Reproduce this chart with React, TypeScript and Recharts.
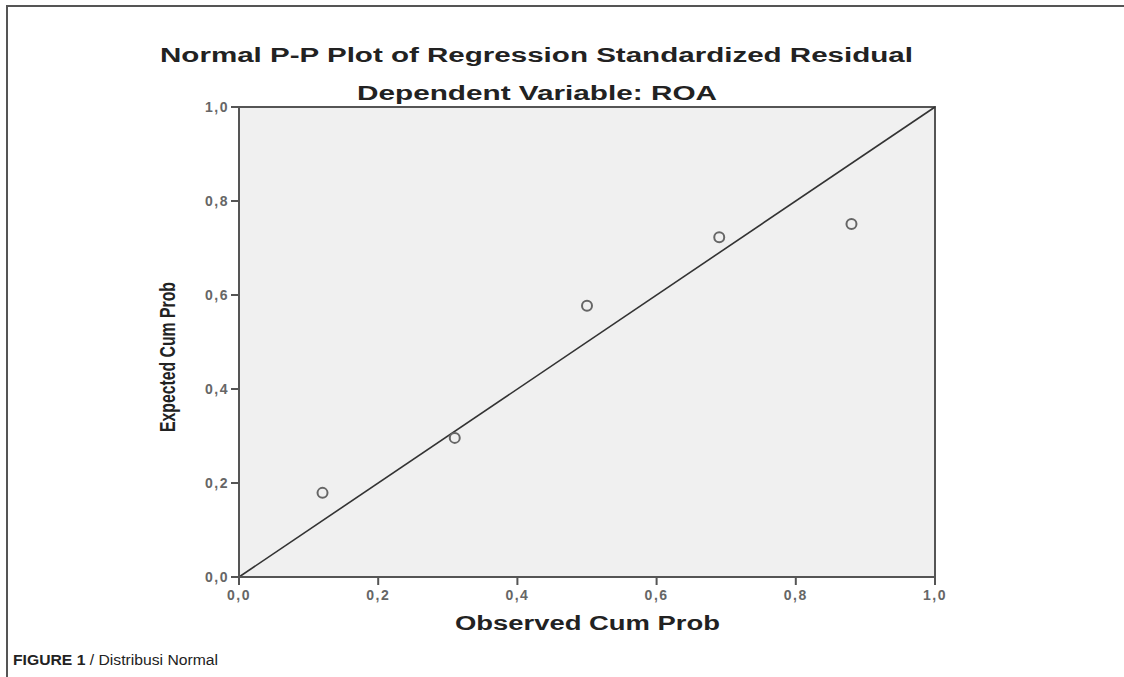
import React from 'react';
import {
  ScatterChart,
  Scatter,
  XAxis,
  YAxis,
  ReferenceArea,
  ReferenceLine,
} from 'recharts';

// observed vs expected cumulative probability
const observed = [0.12, 0.31, 0.5, 0.69, 0.88];
const expected = [0.179, 0.296, 0.577, 0.723, 0.751];
const axisTicks = [0, 0.2, 0.4, 0.6, 0.8, 1];

const points = observed.map((x, i) => ({ x, y: expected[i] }));

const fmt = (v: number) => v.toFixed(1).replace('.', ',');

const font = 'Arial, Liberation Sans, sans-serif';
const tickStyle = { fill: '#666', fontSize: 14, fontFamily: font, fontWeight: 'bold' as const, letterSpacing: 1.5 };

const OpenCircle = (props: any) => (
  <circle cx={props.cx} cy={props.cy} r={5} fill="none" stroke="#666" strokeWidth={2} />
);

export default function App() {
  return (
    <div style={{ position: 'absolute', left: 0, top: 0, width: 1124, height: 677, background: '#fff', overflow: 'hidden' }}>
      <div
        style={{
          position: 'absolute',
          left: 6,
          top: 5,
          width: 1124,
          height: 700,
          borderLeft: '2px solid #555',
          borderTop: '2px solid #555',
        }}
      />
      <div style={{ position: 'absolute', left: 0, top: 0 }}>
        <ScatterChart width={1124} height={677} margin={{ top: 107, right: 189, bottom: 70, left: 189 }}>
          <XAxis
            type="number"
            dataKey="x"
            domain={[0, 1]}
            ticks={axisTicks}
            tickFormatter={fmt}
            tick={{ ...tickStyle, dy: 3 }}
            tickSize={8}
            height={30}
            axisLine={{ stroke: '#555', strokeWidth: 2 }}
            tickLine={{ stroke: '#555', strokeWidth: 2 }}
          />
          <YAxis
            type="number"
            dataKey="y"
            domain={[0, 1]}
            ticks={axisTicks}
            tickFormatter={fmt}
            tick={tickStyle}
            tickSize={8}
            width={50}
            axisLine={{ stroke: '#555', strokeWidth: 2 }}
            tickLine={{ stroke: '#555', strokeWidth: 2 }}
          />
          <ReferenceArea x1={0} x2={1} y1={0} y2={1} fill="#f0f0f0" fillOpacity={1} stroke="#555" strokeWidth={2} />
          <ReferenceLine
            segment={[{ x: 0, y: 0 }, { x: 1, y: 1 }]}
            stroke="#333"
            strokeWidth={1.6}
          />
          <Scatter data={points} shape={OpenCircle} isAnimationActive={false} />
        </ScatterChart>
      </div>
      <svg
        width={1124}
        height={677}
        style={{ position: 'absolute', left: 0, top: 0, pointerEvents: 'none' }}
        fontFamily={font}
      >
        <text x={160} y={62} fontSize={20} fontWeight="bold" fill="#222" textLength={753} lengthAdjust="spacingAndGlyphs">
          Normal P-P Plot of Regression Standardized Residual
        </text>
        <text x={357} y={100} fontSize={20} fontWeight="bold" fill="#222" textLength={360} lengthAdjust="spacingAndGlyphs">
          Dependent Variable: ROA
        </text>
        <text x={455} y={630} fontSize={20} fontWeight="bold" fill="#222" textLength={265} lengthAdjust="spacingAndGlyphs">
          Observed Cum Prob
        </text>
        <text
          x={0}
          y={0}
          transform="translate(175,432) rotate(-90)"
          fontSize={22}
          fontWeight="bold"
          fill="#222"
          textLength={150}
          lengthAdjust="spacingAndGlyphs"
        >
          Expected Cum Prob
        </text>
        <text x={13} y={665} fontSize={14} fill="#222" textLength={205} lengthAdjust="spacingAndGlyphs">
          <tspan fontWeight="bold">FIGURE 1</tspan> / Distribusi Normal
        </text>
      </svg>
    </div>
  );
}
